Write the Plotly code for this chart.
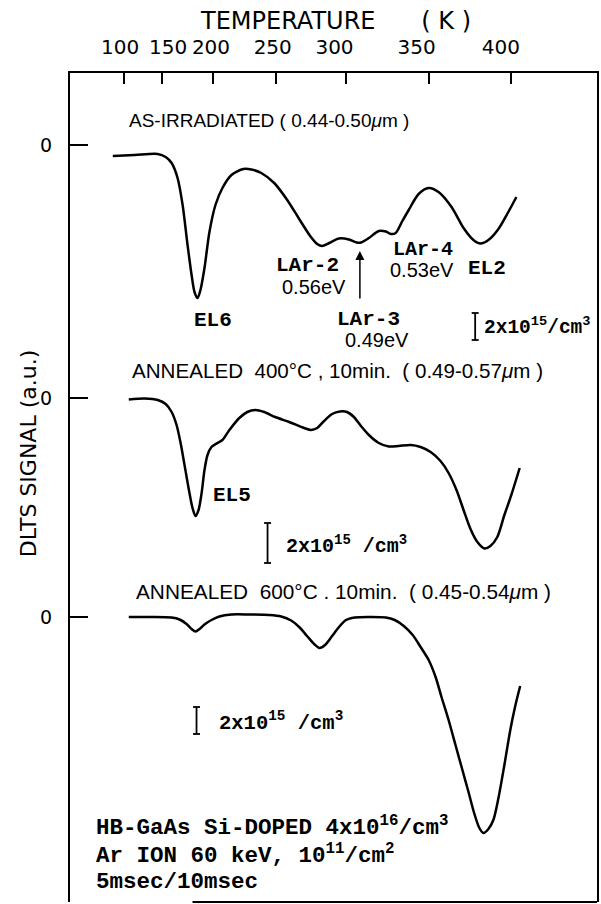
import numpy as np
import plotly.graph_objects as go

# ---------------- temperature scale (non-linear in the original figure) ----------------
TEMP_TICKS = [100, 150, 200, 250, 300, 350, 400]
TICK_POS = [123.7, 162.6, 213.2, 276.9, 347.5, 430.2, 512.8]      # axis position of each tick
LABEL_POS = [120.3, 168.5, 211.5, 273.5, 335.5, 418.0, 502.5]     # where the printed labels sit

# ---------------- data: temperature (K) and DLTS signal (a.u.) ----------------
T_AS = [86.2, 114.5, 144.1, 153.4, 159.3, 165.2, 170.2, 175.1, 179.1, 182.0, 185.0, 187.9,
        191.9, 196.8, 202.2, 207.7, 214.8, 224.2, 230.5, 238.3, 248.5, 257.9, 266.4, 274.2,
        279.2, 282.7, 287.7, 294.7, 301.5, 306.3, 308.8, 313.6, 319.6, 323.9, 326.9, 329.9,
        333.6, 337.8, 343.8, 349.9, 355.9, 363.8, 371.1, 377.1, 381.4, 386.2, 392.3, 398.3, 403.2]
S_AS = [-11, -10, -9, -12, -18, -33, -60, -100, -130, -147, -153, -145,
        -123, -87, -60, -43, -30, -24, -24.5, -28, -38, -55, -74, -91,
        -99, -101, -98, -93.5, -94.5, -97.5, -97.5, -93, -86, -86.5, -89, -88,
        -77, -65, -49, -43, -47, -62, -83, -95, -98.5, -95, -84, -67, -52]

T_400 = [106.8, 127.4, 144.1, 153.4, 159.3, 164.2, 168.2, 172.1, 176.1, 180.0, 183.0, 186.0,
         188.9, 191.9, 194.9, 198.8, 203.8, 207.7, 213.2, 221.0, 227.3, 233.6, 240.6, 249.3,
         259.3, 269.9, 274.9, 279.2, 284.1, 289.8, 295.4, 300.3, 304.5, 308.8, 313.6, 319.6,
         325.7, 331.7, 339.0, 345.0, 351.1, 357.1, 362.0, 366.8, 371.1, 375.3, 379.5, 383.8,
         387.4, 391.6, 395.9, 400.1, 405.2]
S_400 = [-1.5, -0.5, -2, -6, -14, -27, -45, -67, -90, -110, -118, -112,
         -96, -72, -57, -49, -45, -42, -32, -20, -14, -12, -14, -19,
         -24, -30, -32, -30, -23, -16, -13.5, -14, -19, -28, -37, -45,
         -48.5, -48, -47, -49, -54, -63, -75, -92, -112, -131, -144, -150.5,
         -148, -139, -117, -97, -70]

T_600 = [106.8, 133.8, 159.3, 167.2, 174.1, 179.1, 183.0, 187.0, 191.9, 198.8, 205.3, 214.8,
         228.9, 244.6, 253.6, 260.7, 266.4, 272.0, 277.0, 280.9, 284.8, 289.8, 294.7, 299.7,
         305.1, 313.6, 323.9, 329.3, 334.8, 340.2, 345.0, 349.9, 354.1, 357.7, 362.0, 366.2,
         370.4, 374.1, 377.7, 380.7, 383.2, 386.2, 389.2, 392.3, 395.9, 399.5, 402.5, 405.5]
S_600 = [0, 0, -0.5, -2.5, -7, -12, -14.5, -12, -7.5, -3, 0.5, 2.5,
         2.5, 2, 0.5, -3.5, -10, -19, -27, -31, -28, -19, -10, -3,
         -0.5, 0, -0.5, -3, -9, -18, -30, -43, -60, -80, -103, -128,
         -153, -175, -197, -211, -216, -212, -203, -181, -148, -113, -89, -69]

SERIES = [(T_AS, S_AS), (T_400, S_400), (T_600, S_600)]
OFFSETS = [472, 219, 0]          # vertical stacking of the three spectra (a.u.)

# ---------------- layout geometry ----------------
W, H = 601, 904
ML, MR, MT, MB = 70, 2, 73, 2
X0, X1 = ML, W - MR
ZERO3 = 617                       # page row of the lowest zero line
Y_RANGE = [ZERO3 - (H - MB), ZERO3 - MT]
PW, PH = W - ML - MR, H - MT - MB


def temp_to_pos(t):
    t = np.asarray(t, float)
    pos = np.interp(t, TEMP_TICKS, TICK_POS)
    lo = (TICK_POS[1] - TICK_POS[0]) / (TEMP_TICKS[1] - TEMP_TICKS[0])
    hi = (TICK_POS[-1] - TICK_POS[-2]) / (TEMP_TICKS[-1] - TEMP_TICKS[-2])
    pos = np.where(t < TEMP_TICKS[0], TICK_POS[0] + (t - TEMP_TICKS[0]) * lo, pos)
    pos = np.where(t > TEMP_TICKS[-1], TICK_POS[-1] + (t - TEMP_TICKS[-1]) * hi, pos)
    return pos


fig = go.Figure()
for (t, s), off in zip(SERIES, OFFSETS):
    fig.add_trace(go.Scatter(
        x=temp_to_pos(t), y=np.asarray(s, float) + off, mode="lines",
        line=dict(color="black", width=2.5, shape="spline", smoothing=0.8),
        showlegend=False, hoverinfo="skip"))

# invisible trace to carry the label axis
fig.add_trace(go.Scatter(x=[LABEL_POS[0]], y=[0], xaxis="x2", mode="markers",
                         marker=dict(opacity=0), showlegend=False, hoverinfo="skip"))

SANS = "Liberation Sans"
DSANS = "DejaVu Sans"
MONO = "Liberation Mono"


def page_y(py):
    return ZERO3 - py


def ann(text, px, py, size, family, xanchor="center"):
    return dict(text=text, x=px, y=page_y(py), xref="x", yref="y", showarrow=False,
                xanchor=xanchor, yanchor="middle",
                font=dict(size=size, family=family, color="black"))


def ann_paper(text, px, py, size, family, angle=0):
    return dict(text=text, x=(px - ML) / PW, y=(H - MB - py) / PH, xref="paper", yref="paper",
                showarrow=False, xanchor="center", yanchor="middle", textangle=angle,
                font=dict(size=size, family=family, color="black"))


annotations = [
    ann_paper("TEMPERATURE      ( K )", 337, 21, 24, DSANS),
    ann_paper("DLTS SIGNAL (a.u.)", 28, 454, 22, DSANS, angle=-90),
    ann("AS-IRRADIATED ( 0.44-0.50<i>μ</i>m )", 127, 120, 19, SANS, xanchor="left"),
    ann("ANNEALED  400°C , 10min.  ( 0.49-0.57<i>μ</i>m )", 130, 370, 20.6, SANS, xanchor="left"),
    ann("ANNEALED  600°C . 10min.  ( 0.45-0.54<i>μ</i>m )", 134, 591, 20.8, SANS, xanchor="left"),
    ann("<b>EL6</b>", 214, 320, 21, MONO),
    ann("<b>LAr-2</b>", 308, 265, 21, MONO),
    ann("0.56eV", 315, 287, 20, SANS),
    ann("<b>LAr-3</b>", 370, 319, 21, MONO),
    ann("0.49eV", 378, 340, 20, SANS),
    ann("<b>LAr-4</b>", 424, 249, 20, MONO),
    ann("0.53eV", 423, 270, 20, SANS),
    ann("<b>EL2</b>", 489, 268, 21, MONO),
    ann("<b>EL5</b>", 233, 495, 21, MONO),
    ann("<b>2x10<sup>15</sup>/cm<sup>3</sup></b>", 484, 326, 19.5, MONO, xanchor="left"),
    ann("<b>2x10<sup>15</sup> /cm<sup>3</sup></b>", 285, 545, 20, MONO, xanchor="left"),
    ann("<b>2x10<sup>15</sup> /cm<sup>3</sup></b>", 218, 721, 20.5, MONO, xanchor="left"),
    ann("<b>HB-GaAs Si-DOPED 4x10<sup>16</sup>/cm<sup>3</sup></b>", 94, 826, 22.5, MONO, xanchor="left"),
    ann("<b>Ar ION 60 keV, 10<sup>11</sup>/cm<sup>2</sup></b>", 94, 854, 22.5, MONO, xanchor="left"),
    ann("<b>5msec/10msec</b>", 94, 882, 22.5, MONO, xanchor="left"),
]
# LAr-3 arrow
annotations.append(dict(x=361, y=page_y(251), ax=0, ay=49, xref="x", yref="y",
                        axref="pixel", ayref="pixel", text="", showarrow=True,
                        arrowhead=2, arrowsize=1.2, arrowwidth=1.5, arrowcolor="black"))

# scale bars (2x10^15 /cm^3 for each spectrum)
shapes = []
for bx, y_top, y_bot in [(476.7, 313, 340), (268.3, 523, 563), (197, 707, 734)]:
    shapes.append(dict(type="line", x0=bx, x1=bx, y0=page_y(y_top), y1=page_y(y_bot),
                       xref="x", yref="y", line=dict(color="black", width=1.8)))
    for yy in (y_top, y_bot):
        shapes.append(dict(type="line", x0=bx - 3.5, x1=bx + 3.5, y0=page_y(yy), y1=page_y(yy),
                           xref="x", yref="y", line=dict(color="black", width=1.8)))
# bottom edge of the frame (only partly printed in the original)
shapes.append(dict(type="line", x0=193, x1=X1, y0=0, y1=0, xref="x", yref="paper",
                   line=dict(color="black", width=2)))

fig.update_layout(
    width=W, height=H, margin=dict(l=ML, r=MR, t=MT, b=MB),
    paper_bgcolor="white", plot_bgcolor="white",
    annotations=annotations, shapes=shapes,
    xaxis=dict(range=[X0, X1], side="top", tickvals=TICK_POS, showticklabels=False,
               ticks="inside", ticklen=11, tickwidth=2, tickcolor="black",
               showline=True, mirror=False, linewidth=2, linecolor="black",
               showgrid=False, zeroline=False, fixedrange=True),
    xaxis2=dict(range=[X0, X1], overlaying="x", side="top", tickvals=LABEL_POS,
                ticktext=[str(t) for t in TEMP_TICKS], ticks="", showline=False,
                showgrid=False, zeroline=False, ticklabelstandoff=14,
                tickfont=dict(size=20, family=DSANS, color="black")),
    yaxis=dict(range=Y_RANGE, tickvals=OFFSETS, ticktext=["0"] * len(OFFSETS),
               ticks="inside", ticklen=18, tickwidth=2, tickcolor="black",
               tickfont=dict(size=19, family=DSANS, color="black"), ticklabelstandoff=12,
               showline=True, mirror=True, linewidth=2, linecolor="black",
               showgrid=False, zeroline=False, fixedrange=True),
)

fig.write_html("out.html")
